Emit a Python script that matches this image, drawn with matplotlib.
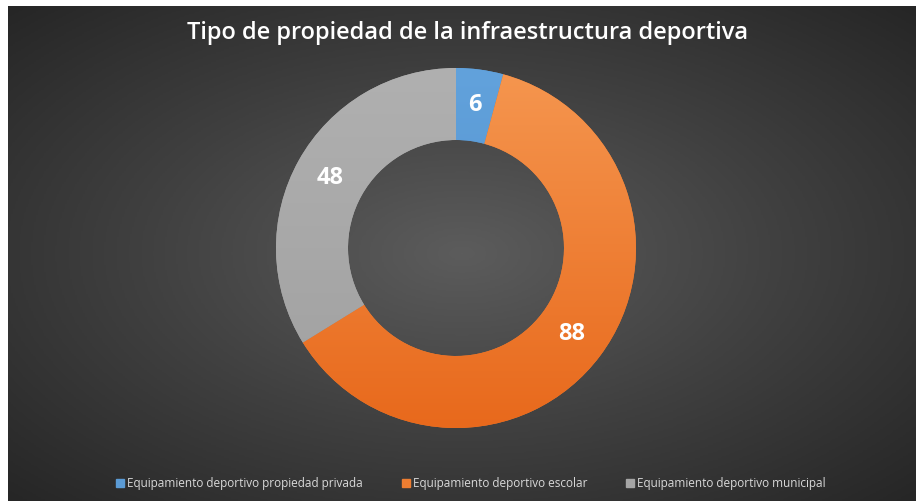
import numpy as np
import matplotlib
matplotlib.use("Agg")
import matplotlib.pyplot as plt
from matplotlib.colors import LinearSegmentedColormap
from matplotlib.lines import Line2D

title = "Tipo de propiedad de la infraestructura deportiva"
categories = ["Equipamiento deportivo propiedad privada",
              "Equipamiento deportivo escolar",
              "Equipamiento deportivo municipal"]
values = [6, 88, 48]
colors_top = ["#62A2DC", "#F5964F", "#B0B0B0"]
colors_bot = ["#4D8CC8", "#E8691C", "#A0A0A0"]
legend_colors = ["#5B9BD5", "#ED7D31", "#A5A5A5"]

W, H = 917, 501
fig = plt.figure(figsize=(W / 100, H / 100), dpi=100, facecolor="white")

# background with radial gradient
bg = fig.add_axes([8 / W, 0, (916 - 8) / W, (H - 6) / H])
bg.set_axis_off()
ny, nx = 300, 550
yy, xx = np.mgrid[-1:1:ny * 1j, -1:1:nx * 1j]
r = np.sqrt(xx ** 2 + yy ** 2) / np.sqrt(2)
bgcmap = LinearSegmentedColormap.from_list("bg", ["#5C5C5C", "#404040", "#262626"])
bg.imshow(r, cmap=bgcmap, vmin=0, vmax=1, aspect="auto", extent=(0, 1, 0, 1))
bg.set_xlim(0, 1)
bg.set_ylim(0, 1)

# donut
cx, cy, R = 456, 248, 180
ax = fig.add_axes([(cx - R) / W, (H - cy - R) / H, 2 * R / W, 2 * R / H])
wedges, texts, autotexts = ax.pie(
    values, startangle=90, counterclock=False, radius=1,
    colors=legend_colors, wedgeprops=dict(width=0.4, linewidth=0),
    autopct=lambda p: "{:.0f}".format(p * sum(values) / 100),
    pctdistance=0.8,
    textprops=dict(color="white", fontsize=17, fontweight="bold", family="Open Sans"))
grad = np.linspace(1, 0, 200).reshape(-1, 1)
for w, ct, cb in zip(wedges, colors_top, colors_bot):
    cm = LinearSegmentedColormap.from_list("g", [cb, ct])
    im = ax.imshow(grad, cmap=cm, vmin=0, vmax=1, extent=(-1, 1, -1, 1),
                   aspect="auto", zorder=w.get_zorder() + 0.1)
    im.set_clip_path(w)
for t in autotexts:
    t.set_zorder(10)
ax.set_xlim(-1, 1)
ax.set_ylim(-1, 1)
ax.set_aspect("auto")

# title
fig.text(468 / W, 1 - 33 / H, title, ha="center", va="center", color="white",
         fontsize=17, fontweight="semibold", family="Open Sans")

# legend
handles = [Line2D([], [], marker="s", linestyle="none", markersize=6,
                  markerfacecolor=c, markeredgecolor=c) for c in legend_colors]
leg = fig.legend(handles, categories, loc="center", ncol=3,
                 bbox_to_anchor=(471 / W, 1 - 484 / H), frameon=False,
                 prop=dict(family="Open Sans", size=8.5), labelcolor="#D9D9D9",
                 handlelength=0.6, handletextpad=0.3, columnspacing=3.3)

fig.savefig("out.png", dpi=100, facecolor="white")
